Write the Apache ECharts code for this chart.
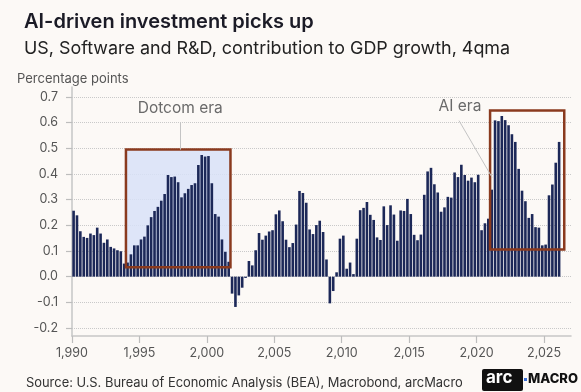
<!DOCTYPE html>
<html>
<head>
<meta charset="utf-8">
<script src="https://cdn.jsdelivr.net/npm/echarts@6/dist/echarts.min.js"></script>
<style>
  html, body { margin: 0; padding: 0; background: #fcf9f6; }
  #chart { width: 581px; height: 392px; }
</style>
</head>
<body>
<div id="chart"></div>
<script>
// US software and R&D investment, contribution to GDP growth (pp, 4-quarter moving average)
const startYear = 1990; // first quarter: 1990 Q1
const q1990s = [
  0.257, 0.239, 0.177, 0.155,
  0.151, 0.168, 0.162, 0.191,
  0.168, 0.132, 0.145, 0.116,
  0.110, 0.103, 0.099, 0.051,
  0.055, 0.087, 0.122, 0.122,
  0.145, 0.156, 0.200, 0.232,
  0.256, 0.272, 0.296, 0.322,
  0.396, 0.388, 0.390, 0.368,
  0.309, 0.325, 0.342, 0.357,
  0.364, 0.435, 0.474, 0.468
];
const q2000s = [
  0.470, 0.364, 0.244, 0.234,
  0.145, 0.097, 0.058, -0.066,
  -0.118, -0.073, -0.043, -0.005,
  0.061, 0.044, 0.103, 0.170,
  0.144, 0.160, 0.176, 0.181,
  0.243, 0.258, 0.216, 0.144,
  0.115, 0.131, 0.203, 0.334,
  0.326, 0.288, 0.184, 0.166,
  0.201, 0.218, 0.174, 0.067,
  -0.104, -0.056, 0.017, 0.148
];
const q2010s = [
  0.160, 0.031, 0.055, 0.010,
  0.148, 0.259, 0.268, 0.291,
  0.241, 0.221, 0.153, 0.143,
  0.274, 0.201, 0.278, 0.242,
  0.140, 0.258, 0.256, 0.303,
  0.244, 0.163, 0.142, 0.164,
  0.319, 0.410, 0.424, 0.360,
  0.328, 0.253, 0.270, 0.311,
  0.308, 0.406, 0.388, 0.436,
  0.396, 0.374, 0.386, 0.368
];
const q2020s = [
  0.397, 0.181, 0.208, 0.226,
  0.339, 0.609, 0.606, 0.626,
  0.610, 0.590, 0.555, 0.525,
  0.420, 0.335, 0.294, 0.229,
  0.244, 0.193, 0.191, 0.122,
  0.125, 0.317, 0.359, 0.444,
  0.525
];

const yearTicks = [1990, 1995, 2000, 2005, 2010, 2015, 2020, 2025];

// highlighted periods: [fromYear, toYear, lowValue, highValue]
const dotcomBox = [1994.0, 2001.75, 0.037, 0.495];
const aiBox = [2021.0, 2026.5, 0.106, 0.647];
const dotcomLabel = { name: 'Dotcom era', at: [1997.88, 0.657], line: [[1997.87, 0.602], [1997.87, 0.495]] };
const aiLabel = { name: 'AI era', at: [2018.62, 0.665], line: [[2018.55, 0.608], [2021.0, 0.387]] };

const values = q1990s.concat(q2000s, q2010s, q2020s);
// each bar sits at the middle of its quarter
const barData = values.map((v, i) => [startYear + i / 4 + 0.125, v]);

const FONT = 'Inter, "Open Sans", sans-serif';
const NAVY = '#1c2858';
const BROWN = '#8a3a1e';

const chart = echarts.init(document.getElementById('chart'), null, { renderer: 'canvas' });

chart.setOption({
  backgroundColor: '#fcf9f6',
  animation: false,
  textStyle: { fontFamily: FONT },
  title: [
    { text: 'AI-driven investment picks up', left: 19, top: 7,
      textStyle: { fontFamily: FONT, fontSize: 20, fontWeight: 600, color: '#1b1b26' } },
    { text: 'US, Software and R&D, contribution to GDP growth, 4qma', left: 19, top: 35,
      textStyle: { fontFamily: FONT, fontSize: 17.9, fontWeight: 400, color: '#222' } },
    { text: 'Percentage points', left: 12, top: 68,
      textStyle: { fontFamily: FONT, fontSize: 13, fontWeight: 400, color: '#555' } },
    { text: 'Source: U.S. Bureau of Economic Analysis (BEA), Macrobond, arcMacro', left: 21, top: 372,
      textStyle: { fontFamily: FONT, fontSize: 12.9, fontWeight: 400, color: '#333' } }
  ],
  grid: [
    { left: 72, right: 10, top: 97, bottom: 64 },
    { left: 72, right: 10, top: 87, bottom: 56 }
  ],
  xAxis: [
    { gridIndex: 0, type: 'value', min: 1990, max: 2027, show: false, splitLine: { show: false } },
    { gridIndex: 1, type: 'value', min: 1990, max: 2027,
      axisLine: { show: true, lineStyle: { color: '#c6c6c6', width: 1.5 } },
      axisTick: { show: true, customValues: yearTicks, length: 7, lineStyle: { color: '#bdbdbd', width: 1.2 } },
      axisLabel: { show: true, customValues: yearTicks, color: '#555', fontSize: 12.5, margin: 11, fontFamily: FONT },
      splitLine: { show: false } }
  ],
  yAxis: [
    { gridIndex: 0, type: 'value', min: -0.2, max: 0.7, interval: 0.1,
      axisLine: { show: false },
      axisTick: { show: true, length: 6, lineStyle: { color: '#bdbdbd', width: 1.2 } },
      axisLabel: { color: '#555', fontSize: 12.5, margin: 14, fontFamily: FONT,
                   formatter: v => v.toFixed(1) },
      splitLine: { show: true, lineStyle: { type: 'dotted', color: '#c9c9c9', width: 1 } } },
    { gridIndex: 1, type: 'value', min: 0, max: 1,
      axisLine: { show: true, lineStyle: { color: '#c6c6c6', width: 1.5 } },
      axisTick: { show: false }, axisLabel: { show: false }, splitLine: { show: false } }
  ],
  series: [
    {
      // shaded background of the dotcom period
      type: 'bar', xAxisIndex: 0, yAxisIndex: 0, data: [], z: 1,
      markArea: {
        silent: true,
        data: [[
          { coord: [dotcomBox[0], dotcomBox[3]], itemStyle: { color: 'rgba(216,226,248,0.85)', borderWidth: 0 } },
          { coord: [dotcomBox[1], dotcomBox[2]] }
        ]]
      }
    },
    {
      name: 'Software and R&D',
      type: 'bar', xAxisIndex: 0, yAxisIndex: 0, z: 2,
      barWidth: 2.6,
      itemStyle: { color: NAVY },
      data: barData
    },
    {
      // period frames, leader lines and labels drawn over the bars
      type: 'bar', xAxisIndex: 0, yAxisIndex: 0, data: [], z: 5,
      markArea: {
        silent: true, z: 5,
        itemStyle: { color: 'rgba(0,0,0,0)', borderColor: BROWN, borderWidth: 2.5 },
        data: [
          [{ coord: [dotcomBox[0], dotcomBox[3]] }, { coord: [dotcomBox[1], dotcomBox[2]] }],
          [{ coord: [aiBox[0], aiBox[3]] }, { coord: [aiBox[1], aiBox[2]] }]
        ]
      },
      markLine: {
        silent: true, symbol: ['none', 'none'],
        lineStyle: { color: '#c4c4c4', width: 1, type: 'solid' },
        label: { show: false },
        data: [
          [{ coord: dotcomLabel.line[0] }, { coord: dotcomLabel.line[1] }],
          [{ coord: aiLabel.line[0] }, { coord: aiLabel.line[1] }]
        ]
      },
      markPoint: {
        silent: true, symbol: 'circle', symbolSize: 1,
        itemStyle: { color: 'rgba(0,0,0,0)' },
        label: { show: true, position: 'inside', formatter: p => p.name,
                 color: '#6a6a6a', fontSize: 15.5, fontFamily: FONT },
        data: [
          { name: dotcomLabel.name, coord: dotcomLabel.at },
          { name: aiLabel.name, coord: aiLabel.at }
        ]
      }
    }
  ],
  graphic: [
    { type: 'rect', left: 482, top: 369, shape: { width: 41, height: 22, r: 2 }, style: { fill: '#111' } },
    { type: 'text', left: 486, top: 369, style: { text: 'arc', fill: '#fff', font: '700 17px ' + FONT } },
    { type: 'rect', left: 524, top: 378, shape: { width: 3, height: 3 }, style: { fill: '#3a6fd8' } },
    { type: 'text', left: 528, top: 373, style: { text: 'MACRO', fill: '#111', font: '800 13px ' + FONT } }
  ]
});
</script>
</body>
</html>
